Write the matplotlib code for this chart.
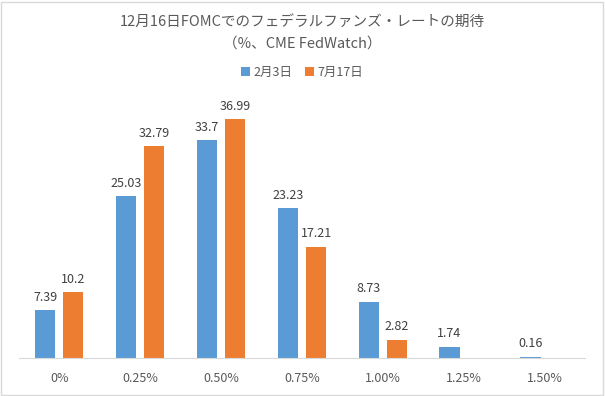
import matplotlib.pyplot as plt
import numpy as np
from matplotlib.patches import Rectangle

plt.rcParams['font.family'] = ['Noto Sans CJK JP', 'DejaVu Sans']

# データ
kategori = ['0%', '0.25%', '0.50%', '0.75%', '1.00%', '1.25%', '1.50%']
feb3 = [7.39, 25.03, 33.7, 23.23, 8.73, 1.74, 0.16]
jul17 = [10.2, 32.79, 36.99, 17.21, 2.82, None, None]

biru = '#5B9BD5'
oranye = '#ED7D31'
abu = '#595959'

fig = plt.figure(figsize=(6.05, 3.96), dpi=100)
ax = fig.add_axes([0.031, 0.096, 0.936, 0.652])

x = np.arange(len(kategori))
w = 0.25
off = 0.175

b1 = ax.bar(x - off, feb3, w, color=biru, label='2月3日')
x2 = [xi + off for xi, v in zip(x, jul17) if v is not None]
v2 = [v for v in jul17 if v is not None]
b2 = ax.bar(x2, v2, w, color=oranye, label='7月17日')

for xi, v in zip(x - off, feb3):
    ax.text(xi, v + 1.0, f'{v:g}', ha='center', va='bottom', fontsize=9, color='#404040')
for xi, v in zip(x2, v2):
    ax.text(xi, v + 1.0, f'{v:g}', ha='center', va='bottom', fontsize=9, color='#404040')

ax.set_xlim(-0.5, len(kategori) - 0.5)
ax.set_ylim(0, 40)
ax.set_xticks(x)
ax.set_xticklabels(kategori, fontsize=9, color=abu)
ax.tick_params(axis='x', length=0, pad=10)
ax.set_yticks([])
for s in ['top', 'right', 'left']:
    ax.spines[s].set_visible(False)
ax.spines['bottom'].set_color('#D9D9D9')

fig.text(0.5, 0.945, '12月16日FOMCでのフェデラルファンズ・レートの期待', ha='center', va='center',
         fontsize=10.5, color=abu)
fig.text(0.5, 0.889, '（%、CME FedWatch）', ha='center', va='center', fontsize=10.5, color=abu)

fig.legend(handles=[b1, b2], loc='center', bbox_to_anchor=(0.5, 0.818), ncol=2, frameon=False,
           fontsize=9, labelcolor=abu, handlelength=0.7, handleheight=0.7, handletextpad=0.3,
           columnspacing=1.0)

fig.patches.append(Rectangle((0.002, 0.003), 0.995, 0.993, transform=fig.transFigure,
                             fill=False, edgecolor='#D9D9D9', linewidth=1))

fig.savefig('out.png', dpi=100)
